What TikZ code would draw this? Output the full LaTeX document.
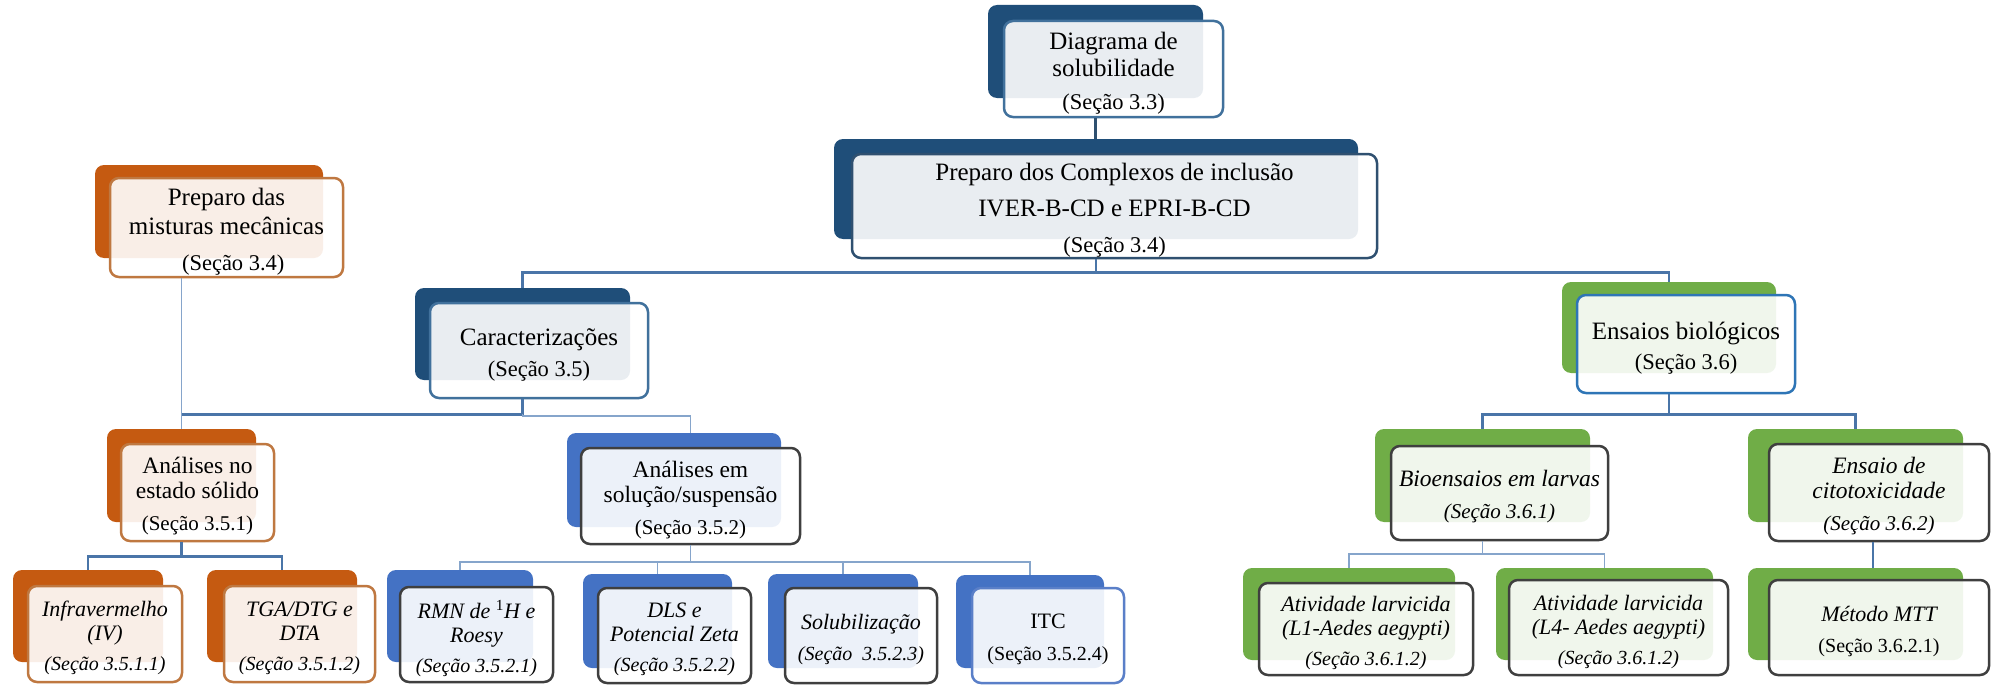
\documentclass[tikz,border=0pt]{standalone}
\usepackage{fontspec}
\setmainfont{Liberation Serif}
\usetikzlibrary{fit,calc}
\definecolor{navy}{HTML}{1F4E79}
\definecolor{bblue}{HTML}{4472C4}
\definecolor{orng}{HTML}{C55A11}
\definecolor{grn}{HTML}{70AD47}
\definecolor{navyline}{HTML}{41719C}
\definecolor{prepline}{HTML}{2F5070}
\definecolor{orline}{HTML}{BF7841}
\definecolor{dkline}{HTML}{3F3F3F}
\definecolor{ensline}{HTML}{2E75B6}
\definecolor{itcline}{HTML}{5A7FC8}
\definecolor{conn}{HTML}{4A75A8}
\definecolor{connlt}{HTML}{86A5CB}
\newcommand{\ftop}{\fontsize{25}{27}\selectfont}
\newcommand{\fsec}{\fontsize{22.5}{25}\selectfont}
\newcommand{\fmid}{\fontsize{23.5}{25}\selectfont}
\newcommand{\fmsec}{\fontsize{21}{24}\selectfont}
\newcommand{\fsml}{\fontsize{22}{24}\selectfont}
\newcommand{\fssec}{\fontsize{20}{23}\selectfont}
\tikzset{
  bk/.style={inner sep=0pt, rounded corners=9pt, draw=none},
  fr/.style={inner sep=0pt, rounded corners=9pt, fill=white, fill opacity=0.9, line width=2.5pt},
  txt/.style={inner sep=0pt, align=center, text=black, yshift=-4pt},
  top/.style={txt, font=\ftop},
  mid/.style={txt, font=\fmid},
  sml/.style={txt, font=\fsml},
  cn/.style={draw=conn, line width=2.5pt},
  cnl/.style={draw=connlt, line width=1.6pt},
}
% name, back colour, back corners, border colour, front corners, text style, text
\newcommand{\blockpair}[7]{%
  \node[bk, fill=#2, fit={#3}] (#1b) {};
  \node[fr, draw=#4, fit={#5}] (#1) {};
  \node[#6] (#1t) at (#1.center) {#7};
}
\begin{document}
\begin{tikzpicture}[x=1pt,y=-1pt]
\fill[white] (0,0) rectangle (1997,685);
\useasboundingbox (0,0) rectangle (1997,685);

% top level
\blockpair{diag}{navy}{(988,5) (1203,98)}{navyline}{(1004,21) (1223,117)}{top}
  {Diagrama de\\solubilidade\\[6pt]{\fsec (Seção 3.3)}}
\blockpair{prep}{navy}{(834,139) (1358,239)}{prepline}{(852,154) (1377,258)}{top}
  {Preparo dos Complexos de inclusão\\[9pt]IVER-B-CD e EPRI-B-CD\\[9pt]{\fsec (Seção 3.4)}}
\blockpair{mist}{orng}{(95,165) (323,258)}{orline}{(110,178) (343,277)}{top}
  {Preparo das\\[2pt]misturas mecânicas\\[9pt]{\fsec\hspace*{0.6em}(Seção~3.4)}}
\blockpair{car}{navy}{(415,288) (630,380)}{navyline}{(430,303) (648,398)}{top}
  {Caracterizações\\[4pt]{\fsec (Seção 3.5)}}
\blockpair{ens}{grn}{(1562,282) (1776,373)}{ensline}{(1577,295) (1795,393)}{top}
  {Ensaios biológicos\\[3pt]{\fsec (Seção 3.6)}}

% middle level
\blockpair{sol}{orng}{(107,429) (256,522)}{orline}{(121,444) (274,541)}{mid}
  {Análises no\\estado sólido\\[7pt]{\fmsec (Seção 3.5.1)}}
\blockpair{susp}{bblue}{(567,433) (781,527)}{dkline}{(581,448) (800,544)}{mid}
  {Análises em\\solução/suspensão\\[7pt]{\fmsec (Seção 3.5.2)}}
\blockpair{bio}{grn}{(1375,429) (1590,522)}{dkline}{(1391,446) (1608,540)}{mid}
  {\itshape Bioensaios em larvas\\[7pt]{\fmsec\itshape (Seção 3.6.1)}}
\blockpair{cit}{grn}{(1748,429) (1963,522)}{dkline}{(1769,444) (1989,541)}{mid}
  {\itshape Ensaio de\\\itshape citotoxicidade\\[7pt]{\fmsec\itshape (Seção 3.6.2)}}

% bottom level
\blockpair{iv}{orng}{(13,570) (163,662)}{orline}{(28,586) (182,682)}{sml}
  {\itshape Infravermelho\\\itshape (IV)\\[6pt]{\fssec\itshape (Seção 3.5.1.1)}}
\blockpair{tga}{orng}{(207,570) (357,662)}{orline}{(224,586) (375,682)}{sml}
  {\itshape TGA/DTG e\\\itshape DTA\\[6pt]{\fssec\itshape (Seção 3.5.1.2)}}
\blockpair{rmn}{bblue}{(387,570) (533,662)}{dkline}{(400,587) (553,682)}{sml}
  {\itshape RMN de {\upshape\textsuperscript{1}}H e\\\itshape Roesy\\[6pt]{\fssec\itshape (Seção 3.5.2.1)}}
\blockpair{dls}{bblue}{(583,574) (732,668)}{dkline}{(598,588) (751,683)}{sml}
  {\itshape DLS e\\\itshape Potencial Zeta\\[6pt]{\fssec\itshape (Seção 3.5.2.2)}}
\blockpair{solub}{bblue}{(768,574) (918,668)}{dkline}{(785,588) (937,683)}{sml}
  {\itshape Solubilização\\[7pt]{\fssec\itshape (Seção~~3.5.2.3)}}
\blockpair{itc}{bblue}{(956,575) (1104,668)}{itcline}{(972,588) (1124,683)}{sml}
  {ITC\\[8pt]{\fssec (Seção 3.5.2.4)}}
\blockpair{lone}{grn}{(1243,568) (1455,660)}{dkline}{(1259,583) (1473,675)}{sml}
  {\itshape Atividade larvicida\\\itshape (L1-Aedes aegypti)\\[6pt]{\fssec\itshape (Seção 3.6.1.2)}}
\blockpair{lfour}{grn}{(1496,568) (1713,660)}{dkline}{(1509,580) (1728,675)}{sml}
  {\itshape Atividade larvicida\\\itshape (L4- Aedes aegypti)\\[6pt]{\fssec\itshape (Seção 3.6.1.2)}}
\blockpair{mtt}{grn}{(1748,568) (1963,660)}{dkline}{(1769,580) (1989,675)}{sml}
  {\itshape Método MTT\\[7pt]{\fssec (Seção 3.6.2.1)}}

% connectors
\draw[cn, draw=prepline] (diagb.south |- diag.south) -- (diagb.south |- prepb.north);

\coordinate (j1) at ($(prepb.south |- prep.south)+(0,13)$);
\draw[cn] (prepb.south |- prep.south) -- (j1);
\draw[cn] (carb.north) -- (carb.north |- j1) -- (ensb.north |- j1) -- (ensb.north);

\draw[cnl] (solb.north |- mist.south) -- (solb.north);
\coordinate (j2) at ($(carb.south |- car.south)+(0,15)$);
\draw[cn] (carb.south |- car.south) -- (j2) -- (solb.north |- j2);
\draw[cnl] (j2) -- ++(0,2) -| (susp.north |- suspb.north);

\coordinate (j3) at ($(solb.south |- sol.south)+(0,14)$);
\draw[cn] (solb.south |- sol.south) -- (j3);
\draw[cn] (ivb.north) -- (ivb.north |- j3) -- (tgab.north |- j3) -- (tgab.north);

\coordinate (j4) at ($(susp.south)+(0,17)$);
\draw[cnl] (susp.south) -- (j4);
\draw[cnl] (rmnb.north) -- (rmnb.north |- j4) -- (itcb.north |- j4) -- (itcb.north);
\draw[cnl] (dlsb.north) -- (dlsb.north |- j4);
\draw[cnl] (solubb.north) -- (solubb.north |- j4);

\coordinate (j5) at ($(ensb.south |- ens.south)+(0,20)$);
\draw[cn] (ensb.south |- ens.south) -- (j5);
\draw[cn] (biob.north) -- (biob.north |- j5) -- (citb.north |- j5) -- (citb.north);

\coordinate (j6) at ($(biob.south |- bio.south)+(0,13)$);
\draw[cnl] (biob.south |- bio.south) -- (j6);
\draw[cnl] (loneb.north) -- (loneb.north |- j6) -- (lfourb.north |- j6) -- (lfourb.north);

\draw[cn] ($(cit.south)+(-6,0)$) -- ($(cit.south |- mttb.north)+(-6,0)$);
\end{tikzpicture}
\end{document}
